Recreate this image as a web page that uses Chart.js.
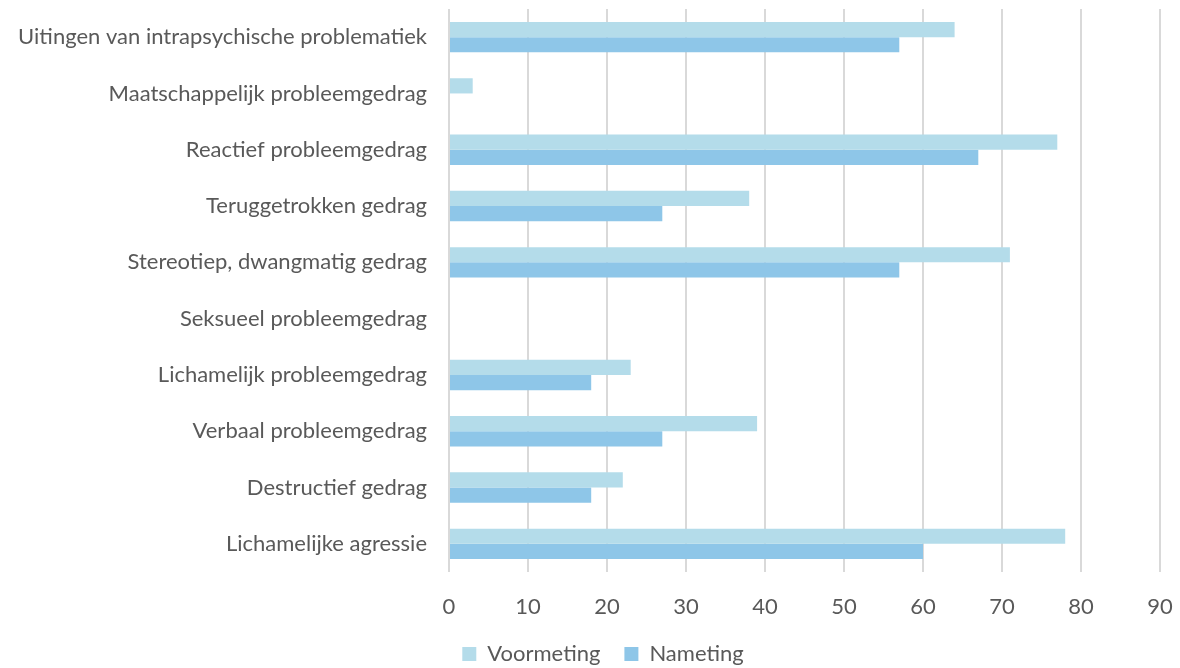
<!DOCTYPE html>
<html>
<head>
<meta charset="utf-8">
<script src="https://cdn.jsdelivr.net/npm/chart.js@4/dist/chart.umd.min.js"></script>
<style>
  html, body { margin: 0; padding: 0; background: #ffffff; }
  #wrap { width: 1180px; height: 668px; position: relative; }
</style>
</head>
<body>
<div id="wrap"><canvas id="chart" width="1180" height="668"></canvas></div>
<script>
const categories = [
  'Uitingen van intrapsychische problematiek',
  'Maatschappelijk probleemgedrag',
  'Reactief probleemgedrag',
  'Teruggetrokken gedrag',
  'Stereotiep, dwangmatig gedrag',
  'Seksueel probleemgedrag',
  'Lichamelijk probleemgedrag',
  'Verbaal probleemgedrag',
  'Destructief gedrag',
  'Lichamelijke agressie'
];
const voormeting = [64, 3, 77, 38, 71, 0, 23, 39, 22, 78];
const nameting   = [57, 0, 67, 27, 57, 0, 18, 27, 18, 60];
const xTicks = [0, 10, 20, 30, 40, 50, 60, 70, 80, 90];

const FONT = 'Lato, "Open Sans", sans-serif';
const TEXT = '#595959';

// nudge the bottom legend a little to the right
const legendShift = {
  id: 'legendShift',
  afterLayout(chart) {
    if (chart.legend) { chart.legend.left += 18; chart.legend.right += 18; }
  }
};

new Chart(document.getElementById('chart'), {
  type: 'bar',
  data: {
    labels: categories,
    datasets: [
      { label: 'Voormeting', data: voormeting, backgroundColor: '#b4dcea', borderWidth: 0,
        categoryPercentage: 0.54, barPercentage: 1.0 },
      { label: 'Nameting', data: nameting, backgroundColor: '#8ec6e8', borderWidth: 0,
        categoryPercentage: 0.54, barPercentage: 1.0 }
    ]
  },
  plugins: [legendShift],
  options: {
    indexAxis: 'y',
    responsive: false,
    animation: false,
    layout: { padding: { top: 9, right: 20, left: 10, bottom: -7 } },
    scales: {
      x: {
        min: 0, max: 90,
        afterBuildTicks: (axis) => { axis.ticks = xTicks.map(v => ({ value: v })); },
        afterFit: (axis) => { axis.height = 47; axis.paddingLeft = 0; axis.paddingRight = 0; },
        grid: { color: '#d9d9d9', lineWidth: 2, drawTicks: false, tickLength: 0 },
        border: { display: false },
        ticks: { color: TEXT, font: { family: FONT, size: 22 }, padding: 22, maxRotation: 0 }
      },
      y: {
        afterFit: (axis) => { axis.width = 439; axis.paddingTop = 0; axis.paddingBottom = 0; },
        grid: { display: false, drawTicks: false, tickLength: 0 },
        border: { display: false },
        ticks: { color: TEXT, font: { family: FONT, size: 22 }, padding: 22, autoSkip: false }
      }
    },
    plugins: {
      legend: {
        position: 'bottom',
        labels: { color: TEXT, font: { family: FONT, size: 22 }, boxWidth: 14, boxHeight: 14, padding: 24 }
      },
      tooltip: { enabled: false }
    }
  }
});
</script>
</body>
</html>
